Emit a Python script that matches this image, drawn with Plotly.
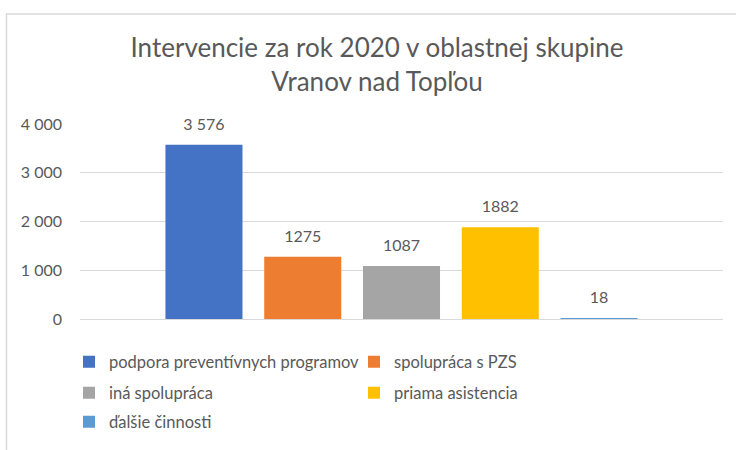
import plotly.graph_objects as go

# ---- data ----
category = ["Vranov nad Topľou"]
series_names = [
    "podpora preventívnych programov",
    "spolupráca s PZS",
    "iná spolupráca",
    "priama asistencia",
    "ďalšie činnosti",
]
series_values = [3576, 1275, 1087, 1882, 18]
label_formats = ["%{y:,d}", "%{y:d}", "%{y:d}", "%{y:d}", "%{y:d}"]
colors = ["#4472C4", "#ED7D31", "#A5A5A5", "#FFC000", "#5B9BD5"]
legend_ids = ["legend", "legend", "legend2", "legend2", "legend3"]
y_ticks = [0, 1000, 2000, 3000, 4000]

# ---- layout geometry (page pixels; body margin removed below) ----
W, H = 736, 450
PL, PR, PT, PB = 80, 723, 124, 320          # plot area in page px
PW, PH = PR - PL, PB - PT
ML, MT = PL, PT
MR, MB = W - ML - PW, H - MT - PH

def px_x(p):
    return (p - PL) / PW

def px_y(p):
    return (PB - p) / PH

FONT = "Lato"
GREY = "#595959"
BARGAP = 0.232

fig = go.Figure()
for name, val, col, lg in zip(series_names, series_values, colors, legend_ids):
    fig.add_trace(go.Bar(
        x=category, y=[val], name=name,
        marker=dict(color=col, line=dict(width=0)),
        legend=lg, hoverinfo="name+y",
    ))

# data labels, grouped like the bars
for name, val, fmt in zip(series_names, series_values, label_formats):
    fig.add_trace(go.Scatter(
        x=category, y=[val], name=name, mode="markers+text",
        marker=dict(size=16, opacity=0),
        texttemplate=fmt, textposition="top center",
        textfont=dict(family=FONT, size=16, color=GREY),
        cliponaxis=False, showlegend=False, hoverinfo="skip",
    ))

legend_common = dict(
    orientation="h", xanchor="left", yanchor="middle",
    font=dict(family=FONT, size=16.5, color=GREY),
    entrywidth=240, itemwidth=30, bgcolor="rgba(0,0,0,0)",
    traceorder="normal",
)

fig.update_layout(
    width=W, height=H,
    margin=dict(l=ML, r=MR, t=MT, b=MB, pad=0),
    paper_bgcolor="white", plot_bgcolor="white",
    separators=", ",
    barmode="group", bargap=BARGAP, bargroupgap=0.22,
    scattermode="group", scattergap=BARGAP,
    title=dict(
        text="Intervencie za rok 2020 v oblastnej skupine<br>Vranov nad Topľou",
        x=377 / W, xanchor="center", xref="container",
        y=1 - 57 / H, yanchor="middle", yref="container",
        font=dict(family=FONT, size=26, color=GREY),
    ),
    xaxis=dict(
        type="category", range=[-0.5, 0.5], showticklabels=False,
        showgrid=False, showline=False, zeroline=False, ticks="",
    ),
    yaxis=dict(
        range=[0, 4000], tickvals=y_ticks, tickformat=",d",
        showgrid=True, gridcolor="#D9D9D9", gridwidth=1,
        zeroline=True, zerolinecolor="#D9D9D9", zerolinewidth=1,
        showline=False, ticks="", ticklabelstandoff=17,
        tickfont=dict(family=FONT, size=16, color=GREY),
    ),
    legend=dict(x=px_x(69), y=px_y(362), **legend_common),
    legend2=dict(x=px_x(69), y=px_y(393), **legend_common),
    legend3=dict(x=px_x(69), y=px_y(422), **legend_common),
    shapes=[dict(
        type="rect", xref="paper", yref="paper",
        x0=px_x(6.5), x1=px_x(760), y0=px_y(13.5), y1=px_y(470),
        line=dict(color="#D9D9D9", width=1.5), fillcolor="rgba(0,0,0,0)",
        layer="below",
    )],
)

fig.write_html(
    "out.html",
    config={"displayModeBar": False},
    post_script="document.body.style.margin='0px';",
)
